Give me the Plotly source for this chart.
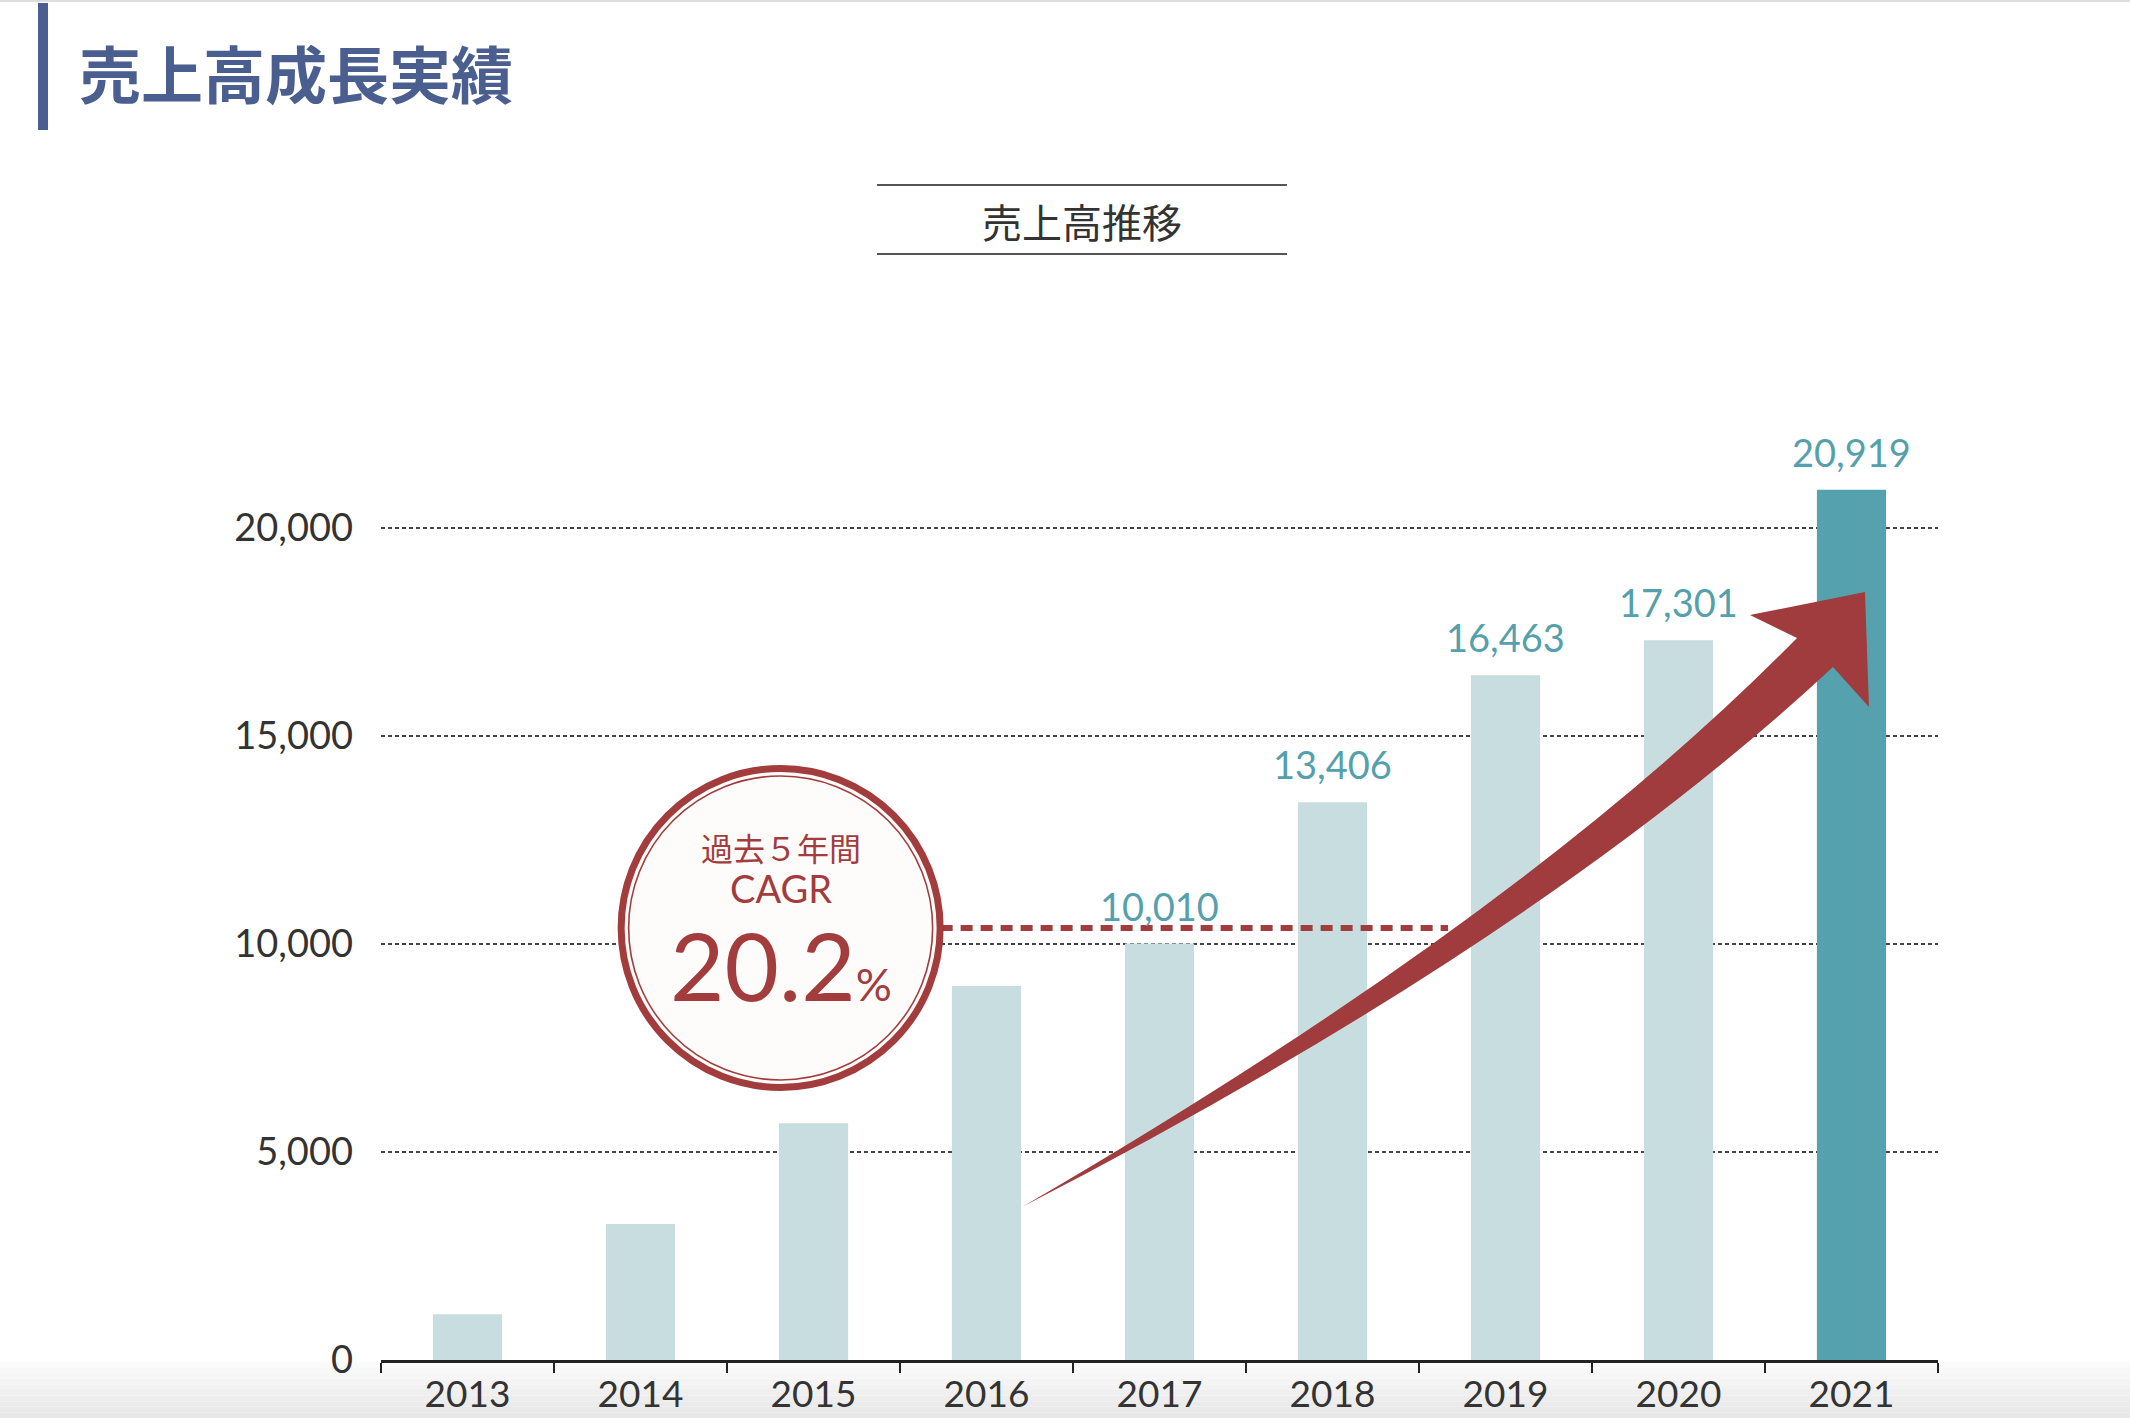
import plotly.graph_objects as go

# data
years = ["2013", "2014", "2015", "2016", "2017", "2018", "2019", "2020", "2021"]
sales = [1100, 3270, 5690, 8990, 10010, 13406, 16463, 17301, 20919]
labeled = [False, False, False, False, True, True, True, True, True]
y_ticks = [0, 5000, 10000, 15000, 20000]
y_ticktext = ["0", "5,000", "10,000", "15,000", "20,000"]
cagr_text = "20.2"

# decorative arrow (category index, value): tail, curve controls, notches, barbs, tip
arrow_tail = (3.205, 3678)
arrow_ctrl_top = (6.113, 10697)
arrow_notch_l = (7.685, 17356)
arrow_barb_l = (7.413, 17909)
arrow_tip = (8.078, 18462)
arrow_barb_r = (8.101, 15697)
arrow_notch_r = (7.893, 16659)
arrow_ctrl_bot = (6.199, 10096)

LIGHT = "#c7dde0"
DARK = "#56a1ae"
RED = "#a23c3d"
NAVY = "#4a5f8f"
FONT = "Lato, 'Noto Sans CJK JP', sans-serif"
JP = "'Noto Sans CJK JP', sans-serif"

W, H = 2130, 1418
L, R, T, B = 381, 192, 320, 58
PW, PH = W - L - R, H - T - B


def px(x):
    return (x - L) / PW


def py(y):
    return (H - B - y) / PH


def pt(p):
    return f"{p[0]},{p[1]}"


x_idx = list(range(len(years)))
colors = [DARK if y == "2021" else LIGHT for y in years]

fig = go.Figure()
fig.add_trace(go.Bar(x=x_idx, y=sales, width=0.4, marker=dict(color=colors, line=dict(width=0)),
                     hoverinfo="skip"))

# dashed CAGR guide
cx, cy = 1.81, 10385
fig.add_trace(go.Scatter(x=[cx, 5.668], y=[cy, cy], mode="lines",
                         line=dict(color=RED, width=6, dash="12px,8px"), hoverinfo="skip"))

shapes = []
# arrow
arrow_path = (f"M{pt(arrow_tail)} Q{pt(arrow_ctrl_top)} {pt(arrow_notch_l)} "
              f"L{pt(arrow_barb_l)} L{pt(arrow_tip)} L{pt(arrow_barb_r)} L{pt(arrow_notch_r)} "
              f"Q{pt(arrow_ctrl_bot)} {pt(arrow_tail)} Z")
shapes.append(dict(type="path", xref="x", yref="y", path=arrow_path, fillcolor="#a03c3d",
                   line=dict(width=0), layer="above"))
# circle
shapes.append(dict(type="circle", xref="x", yref="y", xsizemode="pixel", ysizemode="pixel",
                   xanchor=cx, yanchor=cy, x0=-159.5, x1=159.5, y0=-159.5, y1=159.5,
                   line=dict(color=RED, width=7), fillcolor="#fdfcfa", layer="above"))
shapes.append(dict(type="circle", xref="x", yref="y", xsizemode="pixel", ysizemode="pixel",
                   xanchor=cx, yanchor=cy, x0=-152, x1=152, y0=-152, y1=152,
                   line=dict(color=RED, width=1.6), layer="above"))
# title bar
shapes.append(dict(type="rect", xref="paper", yref="paper", x0=px(38), x1=px(48), y0=py(130), y1=py(3),
                   fillcolor=NAVY, line=dict(width=0)))
# top border
shapes.append(dict(type="rect", xref="paper", yref="paper", x0=px(0), x1=px(W), y0=py(2), y1=py(0),
                   fillcolor="#dddddd", line=dict(width=0)))
# subtitle rules
for yy in (185, 254):
    shapes.append(dict(type="line", xref="paper", yref="paper", x0=px(877), x1=px(1287), y0=py(yy), y1=py(yy),
                       line=dict(color="#555555", width=2)))
# bottom fade
n = 10
for i in range(n):
    y0 = 1362 + i * (H - 1362) / n
    y1 = 1362 + (i + 1) * (H - 1362) / n
    g = int(252 - (252 - 230) * (i + 0.5) / n)
    shapes.append(dict(type="rect", xref="paper", yref="paper", x0=px(0), x1=px(W), y0=py(y1), y1=py(y0),
                       fillcolor=f"rgb({g},{g},{g})", line=dict(width=0), layer="below"))

annotations = []
for i, (v, show) in enumerate(zip(sales, labeled)):
    if show:
        annotations.append(dict(x=i, y=v, xref="x", yref="y", text=f"{v:,}", showarrow=False,
                                yanchor="bottom", yshift=13, font=dict(family=FONT, size=38, color="#55a0ad")))

annotations += [
    dict(x=cx, y=11780, xref="x", yref="y", yanchor="middle",
         text="過去５年間<br><span style='font-size:38px'>CAGR</span>", showarrow=False,
         font=dict(family=FONT, size=32, color=RED)),
    dict(x=cx, y=9500, xref="x", yref="y", yanchor="middle",
         text=cagr_text + "<span style='font-size:45px'>%</span>",
         showarrow=False, font=dict(family=FONT, size=94, color=RED)),
    dict(x=-0.634, y=21564, xref="x", yref="y", text="(百万円)", showarrow=False, xanchor="right",
         yanchor="middle", font=dict(family=JP, size=35, color="#333333")),
    dict(x=px(77), y=py(72), xref="paper", yref="paper", text="<b>売上高成長実績</b>", showarrow=False,
         xanchor="left", yanchor="middle", font=dict(family=JP, size=62, color=NAVY)),
    dict(x=px(1082), y=py(221), xref="paper", yref="paper", text="売上高推移", showarrow=False,
         xanchor="center", yanchor="middle", font=dict(family=JP, size=40, color="#333333")),
]

fig.update_layout(
    width=W, height=H,
    margin=dict(l=L, r=R, t=T, b=B),
    paper_bgcolor="white", plot_bgcolor="rgba(0,0,0,0)",
    showlegend=False,
    shapes=shapes, annotations=annotations,
    xaxis=dict(range=[-0.5, 8.5], tickvals=x_idx, ticktext=years, ticks="", showgrid=False,
               zeroline=False, showline=True, linecolor="#222222", linewidth=3, automargin=False,
               tickfont=dict(family=FONT, size=37, color="#333333"), ticklabelstandoff=0,
               minor=dict(tickmode="linear", tick0=-0.5, dtick=1, ticks="outside", ticklen=10,
                          tickwidth=2, tickcolor="#222222", showgrid=False),
               fixedrange=True),
    yaxis=dict(range=[0, 25000], tickvals=y_ticks, ticktext=y_ticktext, ticks="", automargin=False,
               showgrid=True, gridcolor="#444444", gridwidth=1.5, griddash="4px,3px",
               zeroline=False, showline=False, ticklabelstandoff=27,
               tickfont=dict(family=FONT, size=38, color="#333333"), fixedrange=True),
)

fig.write_html("out.html", config={"displayModeBar": False},
               post_script="document.body.style.margin='0';")
